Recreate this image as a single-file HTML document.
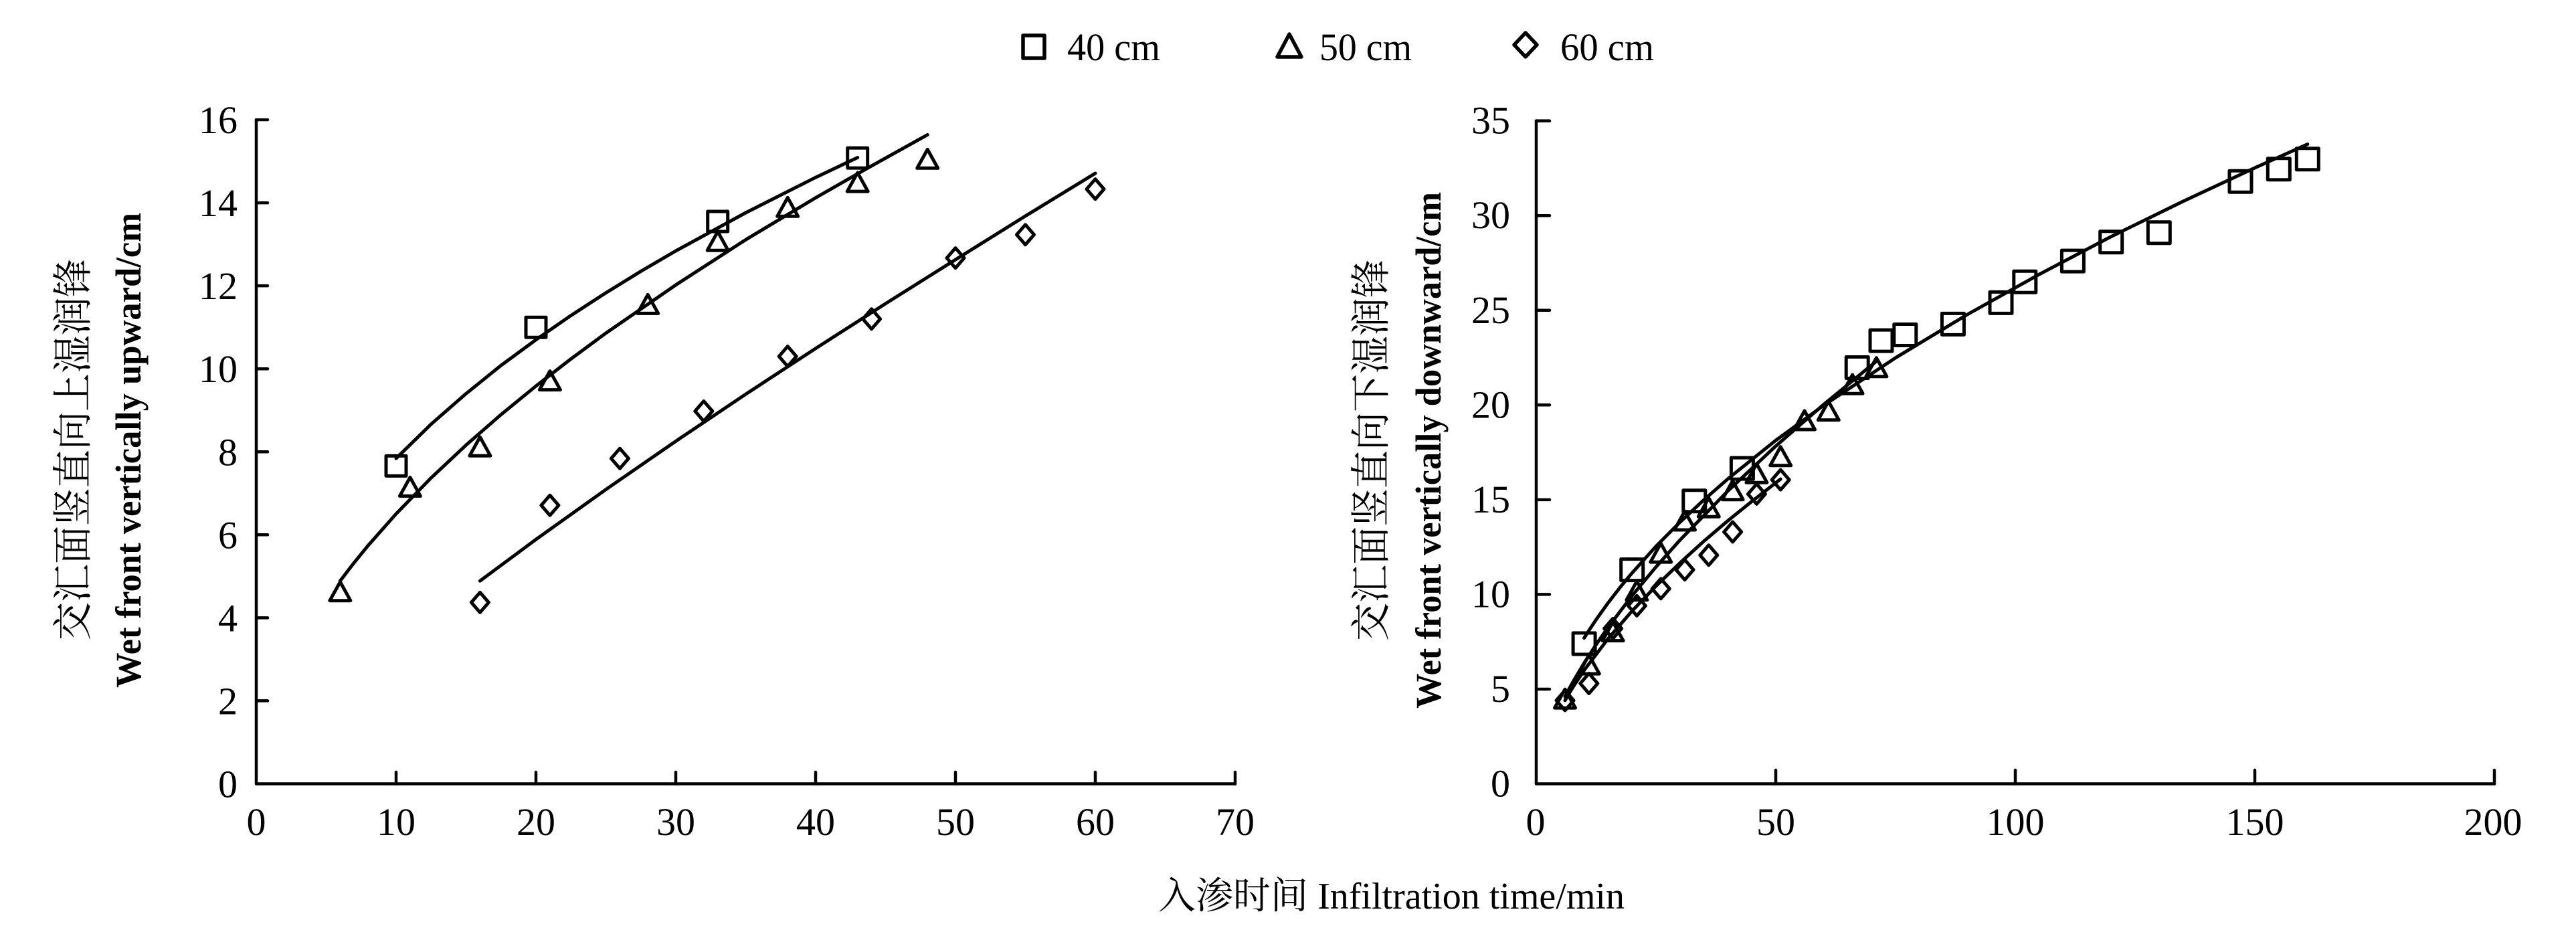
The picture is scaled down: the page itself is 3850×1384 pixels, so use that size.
<!DOCTYPE html>
<html>
<head>
<meta charset="utf-8">
<style>
  html, body { margin: 0; padding: 0; background: #fff; }
  svg { display: block; }
  .tk { font-family: "Liberation Serif", "Times New Roman", serif; font-size: 58px; fill: #000; }
  .lg { font-family: "Liberation Serif", "Times New Roman", serif; font-size: 58px; fill: #000; }
  .cn { font-family: "Liberation Serif", "Noto Serif CJK SC", "Noto Sans CJK SC", serif; font-size: 60px; fill: #000; }
  .en { font-family: "Liberation Serif", "Times New Roman", serif; font-size: 54px; font-weight: bold; fill: #000; }
  .xt { font-family: "Liberation Serif", "Noto Serif CJK SC", "Noto Sans CJK SC", serif; font-size: 56px; fill: #000; }
</style>
</head>
<body>
<svg width="3850" height="1384" viewBox="0 0 3850 1384" xmlns="http://www.w3.org/2000/svg">
  <rect x="0" y="0" width="3850" height="1384" fill="#fff"/>
  <defs>
    <path id="sq" d="M-15,-15 H15 V15 H-15 Z"/>
    <path id="sqb" d="M-16.5,-16 H16.5 V16 H-16.5 Z"/>
    <path id="tr" d="M0,-14 L15.5,14 L-15.5,14 Z"/>
    <path id="dm" d="M0,-15 L13,0 L0,15 L-13,0 Z"/>
  </defs>

  <!-- Legend -->
  <g fill="none" stroke="#000" stroke-width="5.5" stroke-linejoin="round">
    <rect x="1529" y="53" width="32" height="34"/>
    <path d="M1927,51 L1945,85 L1909,85 Z"/>
    <path d="M2280,49 L2297,67 L2280,85 L2263,67 Z"/>
  </g>
  <text class="lg" x="1595" y="90" textLength="139" lengthAdjust="spacingAndGlyphs">40 cm</text>
  <text class="lg" x="1972" y="90" textLength="138" lengthAdjust="spacingAndGlyphs">50 cm</text>
  <text class="lg" x="2332" y="90" textLength="140" lengthAdjust="spacingAndGlyphs">60 cm</text>

  <!-- ================= LEFT CHART ================= -->
  <g stroke="#000" stroke-width="4.5" fill="none" stroke-linecap="round" stroke-linejoin="round">
    <polyline points="383,179 383,1171.5 1846,1171.5"/>
    <path d="M383,179 H400 M383,303.1 H400 M383,427.1 H400 M383,551.2 H400 M383,675.3 H400 M383,799.3 H400 M383,923.4 H400 M383,1047.4 H400"/>
    <path d="M592,1171.5 V1154 M801,1171.5 V1154 M1010,1171.5 V1154 M1219,1171.5 V1154 M1428,1171.5 V1154 M1637,1171.5 V1154 M1846,1171.5 V1154"/>
  </g>
  <g class="tk" text-anchor="end">
    <text x="355" y="1191.5">0</text>
    <text x="355" y="1067.4">2</text>
    <text x="355" y="943.4">4</text>
    <text x="355" y="819.3">6</text>
    <text x="355" y="695.3">8</text>
    <text x="355" y="571.2">10</text>
    <text x="355" y="447.1">12</text>
    <text x="355" y="323.1">14</text>
    <text x="355" y="199">16</text>
  </g>
  <g class="tk" text-anchor="middle">
    <text x="383" y="1248">0</text>
    <text x="592" y="1248">10</text>
    <text x="801" y="1248">20</text>
    <text x="1010" y="1248">30</text>
    <text x="1219" y="1248">40</text>
    <text x="1428" y="1248">50</text>
    <text x="1637" y="1248">60</text>
    <text x="1846" y="1248">70</text>
  </g>

  <!-- left curves -->
  <g stroke="#000" stroke-width="5" fill="none" stroke-linecap="round" stroke-linejoin="round">
    <polyline points="592,685.2 644.25,634.0 696.5,588.4 748.75,546.2 801,507.8 853.25,471.6 905.5,437.7 957.75,405.5 1010,375.0 1114.5,318.0 1219,265.2 1281.7,235.5"/>
    <polyline points="508.4,868.2 529.3,840.9 550.2,815.3 592,768.0 644.25,714.3 696.5,665.3 748.75,619.7 801,577.0 853.25,536.5 905.5,497.9 1010,425.9 1114.5,358.3 1219,295.6 1302.6,247.9 1386.2,201.4"/>
    <polyline points="717.4,868.2 801,806.3 905.5,731.6 1010,659.4 1114.5,589.2 1219,520.8 1323.5,453.8 1428,388.1 1532.5,322.9 1637,259.0"/>
  </g>

  <!-- left markers -->
  <g stroke="#000" stroke-width="5" fill="none" stroke-linejoin="round">
    <use href="#sq" x="592" y="696.4"/>
    <use href="#sq" x="801" y="489.2"/>
    <use href="#sq" x="1072.7" y="331"/>
    <use href="#sq" x="1281.7" y="236.1"/>

    <use href="#tr" x="508.4" y="883.7"/>
    <use href="#tr" x="612.9" y="727.4"/>
    <use href="#tr" x="717.4" y="667.2"/>
    <use href="#tr" x="821.9" y="568.6"/>
    <use href="#tr" x="968.2" y="454.4"/>
    <use href="#tr" x="1072.7" y="360.2"/>
    <use href="#tr" x="1177.2" y="309.3"/>
    <use href="#tr" x="1281.7" y="272.1"/>
    <use href="#tr" x="1386.2" y="237.3"/>

    <use href="#dm" x="717.4" y="900.4"/>
    <use href="#dm" x="821.9" y="755.3"/>
    <use href="#dm" x="926.4" y="685.2"/>
    <use href="#dm" x="1051.8" y="614.5"/>
    <use href="#dm" x="1177.2" y="532.6"/>
    <use href="#dm" x="1302.6" y="476.8"/>
    <use href="#dm" x="1428" y="385.6"/>
    <use href="#dm" x="1532.5" y="350.8"/>
    <use href="#dm" x="1637" y="282.6"/>
  </g>

  <!-- left y title -->
  <text class="cn" transform="rotate(-90 110 672)" x="110" y="672" text-anchor="middle" dominant-baseline="central" textLength="570" lengthAdjust="spacingAndGlyphs">交汇面竖直向上湿润锋</text>
  <text class="en" transform="rotate(-90 192 673)" x="192" y="673" text-anchor="middle" dominant-baseline="central" textLength="710" lengthAdjust="spacingAndGlyphs">Wet front vertically upward/cm</text>

  <!-- ================= RIGHT CHART ================= -->
  <g stroke="#000" stroke-width="4.5" fill="none" stroke-linecap="round" stroke-linejoin="round">
    <polyline points="2296,180.6 2296,1171.5 3728,1171.5"/>
    <path d="M2296,180.6 H2316 M2296,322.2 H2316 M2296,463.75 H2316 M2296,605.3 H2316 M2296,746.85 H2316 M2296,888.4 H2316 M2296,1029.95 H2316"/>
    <path d="M2654,1171.5 V1151 M3012,1171.5 V1151 M3370,1171.5 V1151 M3728,1171.5 V1151"/>
  </g>
  <g class="tk" text-anchor="end">
    <text x="2257" y="1190.5">0</text>
    <text x="2257" y="1049">5</text>
    <text x="2257" y="907.4">10</text>
    <text x="2257" y="765.9">15</text>
    <text x="2257" y="624.3">20</text>
    <text x="2257" y="482.8">25</text>
    <text x="2257" y="341.2">30</text>
    <text x="2257" y="199.7">35</text>
  </g>
  <g class="tk" text-anchor="middle">
    <text x="2295" y="1248">0</text>
    <text x="2654" y="1248">50</text>
    <text x="3012" y="1248">100</text>
    <text x="3370" y="1248">150</text>
    <text x="3726" y="1248">200</text>
  </g>

  <!-- right curves -->
  <g stroke="#000" stroke-width="5" fill="none" stroke-linecap="round" stroke-linejoin="round">
    <polyline points="2367.6,953.5 2374.8,942.2 2385.5,926.1 2403.4,901.1 2421.3,877.9 2439.2,856.4 2475,816.5 2510.8,780.5 2546.6,747.1 2582.4,715.7 2654,658.2 2725.6,605.9 2833,534.8 2940.4,470.0 3047.8,410.0 3155.2,353.6 3262.6,301.0 3370,250.9 3448.8,215.5"/>
    <polyline points="2339,1041.3 2346.1,1027.8 2353.3,1015.0 2367.6,991.0 2385.5,963.4 2403.4,937.6 2439.2,890.4 2475,847.3 2510.8,807.2 2582.4,733.8 2654,666.7 2725.6,604.5 2804.4,539.9"/>
    <polyline points="2339,1046.9 2346.1,1034.8 2353.3,1023.3 2367.6,1001.8 2403.4,954.6 2439.2,913.2 2475,875.9 2510.8,841.4 2546.6,808.8 2582.4,778.3 2618.2,749.4 2661.2,716.0"/>
  </g>

  <!-- right markers -->
  <g stroke="#000" stroke-width="5" fill="none" stroke-linejoin="round">
    <use href="#sqb" x="2367.6" y="962"/>
    <use href="#sqb" x="2439.2" y="851.6"/>
    <use href="#sqb" x="2532.3" y="748.8"/>
    <use href="#sqb" x="2603.9" y="700.1"/>
    <use href="#sqb" x="2775.7" y="549.5"/>
    <use href="#sqb" x="2811.5" y="509.1"/>
    <use href="#sqb" x="2847.3" y="500.5"/>
    <use href="#sqb" x="2918.9" y="484.4"/>
    <use href="#sqb" x="2990.5" y="452.4"/>
    <use href="#sqb" x="3026.3" y="421.3"/>
    <use href="#sqb" x="3097.9" y="390.1"/>
    <use href="#sqb" x="3155.2" y="361.8"/>
    <use href="#sqb" x="3226.8" y="347.7"/>
    <use href="#sqb" x="3348.5" y="271.2"/>
    <use href="#sqb" x="3405.8" y="252.8"/>
    <use href="#sqb" x="3448.8" y="237.8"/>

    <use href="#tr" x="2339" y="1044.1"/>
    <use href="#tr" x="2374.8" y="993.1"/>
    <use href="#tr" x="2410.6" y="943.6"/>
    <use href="#tr" x="2446.4" y="882.7"/>
    <use href="#tr" x="2482.2" y="826.1"/>
    <use href="#tr" x="2518" y="778"/>
    <use href="#tr" x="2553.8" y="758.2"/>
    <use href="#tr" x="2589.6" y="732.7"/>
    <use href="#tr" x="2625.4" y="707.2"/>
    <use href="#tr" x="2661.2" y="681.7"/>
    <use href="#tr" x="2697" y="628"/>
    <use href="#tr" x="2732.8" y="613.8"/>
    <use href="#tr" x="2768.6" y="574.2"/>
    <use href="#tr" x="2804.4" y="548.7"/>

    <use href="#dm" x="2339" y="1046.9"/>
    <use href="#dm" x="2374.8" y="1021.5"/>
    <use href="#dm" x="2410.6" y="939.4"/>
    <use href="#dm" x="2446.4" y="905.4"/>
    <use href="#dm" x="2482.2" y="879.9"/>
    <use href="#dm" x="2518" y="851.6"/>
    <use href="#dm" x="2553.8" y="829.8"/>
    <use href="#dm" x="2589.6" y="795"/>
    <use href="#dm" x="2625.4" y="738.4"/>
    <use href="#dm" x="2661.2" y="717.1"/>
  </g>

  <!-- right y title -->
  <text class="cn" transform="rotate(-90 2050 673)" x="2050" y="673" text-anchor="middle" dominant-baseline="central" textLength="570" lengthAdjust="spacingAndGlyphs">交汇面竖直向下湿润锋</text>
  <text class="en" transform="rotate(-90 2135 673)" x="2135" y="673" text-anchor="middle" dominant-baseline="central" textLength="772" lengthAdjust="spacingAndGlyphs">Wet front vertically downward/cm</text>

  <!-- x title -->
  <text class="xt" x="1731" y="1358" textLength="697" lengthAdjust="spacingAndGlyphs">入渗时间 Infiltration time/min</text>
</svg>
</body>
</html>
